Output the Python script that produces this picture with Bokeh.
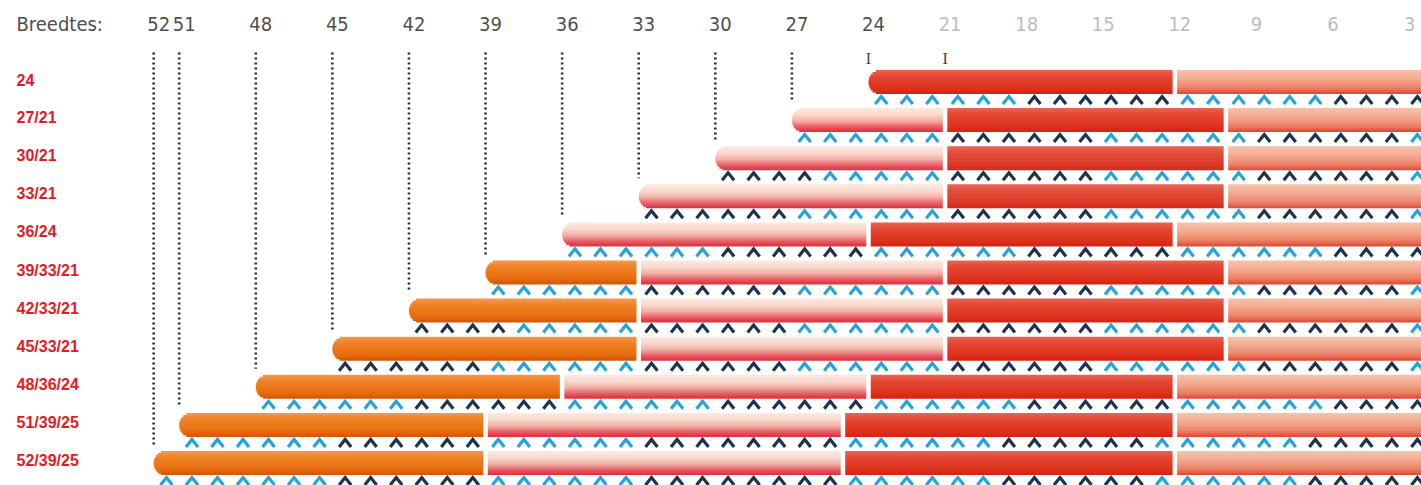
import numpy as np
from bokeh.plotting import figure
from bokeh.models import Range1d
from bokeh.embed import file_html
from bokeh.resources import INLINE
from bokeh.core.properties import value

# ---------------- data ----------------
row_labels = ["24", "27/21", "30/21", "33/21", "36/24", "39/33/21",
              "42/33/21", "45/33/21", "48/36/24", "51/39/25", "52/39/25"]
row_starts = [24, 27, 30, 33, 36, 39, 42, 45, 48, 51, 52]
# stitch boundaries of the bar segments, left to right
row_bounds = [
    [24, 12, 0],
    [27, 21, 10, 0],
    [30, 21, 10, 0],
    [33, 21, 10, 0],
    [36, 24, 12, 0],
    [39, 33, 21, 10, 0],
    [42, 33, 21, 10, 0],
    [45, 33, 21, 10, 0],
    [48, 36, 24, 12, 0],
    [51, 39, 25, 12, 0],
    [52, 39, 25, 12, 0],
]
row_kinds = [
    ["red", "salmon"],
    ["pink", "red", "salmon"],
    ["pink", "red", "salmon"],
    ["pink", "red", "salmon"],
    ["pink", "red", "salmon"],
    ["orange", "pink", "red", "salmon"],
    ["orange", "pink", "red", "salmon"],
    ["orange", "pink", "red", "salmon"],
    ["orange", "pink", "red", "salmon"],
    ["orange", "pink", "red", "salmon"],
    ["orange", "pink", "red", "salmon"],
]
# stitch marks under each bar: runs of (colour, count) from the row's first stitch
chevron_runs = [
    [("L", 6), ("D", 6), ("L", 6), ("D", 6)],
    [("L", 6), ("D", 6), ("L", 6), ("D", 6), ("L", 3)],
    [("D", 4), ("L", 5), ("D", 6), ("L", 6), ("D", 6), ("L", 3)],
    [("D", 6), ("L", 6), ("D", 6), ("L", 6), ("D", 6), ("L", 3)],
    [("L", 6), ("D", 6), ("L", 6), ("D", 6), ("L", 6), ("D", 6)],
    [("L", 6), ("D", 6), ("L", 6), ("D", 6), ("L", 6), ("D", 6), ("L", 3)],
    [("D", 4), ("L", 5), ("D", 6), ("L", 6), ("D", 6), ("L", 6), ("D", 6), ("L", 3)],
    [("D", 6), ("L", 6), ("D", 6), ("L", 6), ("D", 6), ("L", 6), ("D", 6), ("L", 3)],
    [("L", 6), ("D", 6), ("L", 6), ("D", 6), ("L", 6), ("D", 6), ("L", 6), ("D", 6)],
    [("L", 6), ("D", 6), ("L", 6), ("D", 8), ("L", 6), ("D", 6), ("L", 6), ("D", 6), ("L", 1)],
    [("L", 7), ("D", 6), ("L", 6), ("D", 8), ("L", 6), ("D", 6), ("L", 6), ("D", 6), ("L", 1)],
]
top_ticks = [52, 51, 48, 45, 42, 39, 36, 33, 30, 27, 24, 21, 18, 15, 12, 9, 6, 3]
guide_lines = [52, 51, 48, 45, 42, 39, 36, 33, 30, 27]
marker_stitches = [24, 21]
header_text = "Breedtes:"

# ---------------- geometry / style ----------------
PX_ST = 25.53     # pixels per stitch
PX_ROW = 38.1     # pixels per row
W, Hfig = 1421, 485
X_LEFT = 24 + 868 / PX_ST
X_RIGHT = X_LEFT - W / PX_ST
Y_TOP = 81.5 / PX_ROW
Y_BOT = Y_TOP - Hfig / PX_ROW

def sx(px):
    return px / PX_ST

def sy(py):
    return py / PX_ROW

GRADS = {
    "orange": [(0.0, "#f59a4e"), (0.25, "#f08226"), (0.7, "#ea7012"), (1.0, "#d25604")],
    "pink":   [(0.0, "#fceae2"), (0.3, "#f9d6ca"), (0.55, "#f3aca2"), (0.76, "#e8636a"), (1.0, "#de2a36")],
    "red":    [(0.0, "#ea6452"), (0.3, "#e44532"), (0.75, "#df331d"), (1.0, "#d32211")],
    "salmon": [(0.0, "#f7c4ad"), (0.4, "#f2a78b"), (0.75, "#ec8066"), (1.0, "#e0432f")],
}
CHEV = {"L": "#27a3dc", "D": "#1b3550"}

def hex2rgb(h):
    h = h.lstrip("#")
    return np.array([int(h[i:i + 2], 16) for i in (0, 2, 4)], float)

def grad_color(kind, t):
    stops = GRADS[kind]
    for (t0, c0), (t1, c1) in zip(stops[:-1], stops[1:]):
        if t <= t1:
            f = (t - t0) / (t1 - t0) if t1 > t0 else 0
            c = hex2rgb(c0) * (1 - f) + hex2rgb(c1) * f
            return "#%02x%02x%02x" % tuple(int(round(v)) for v in c)
    return stops[-1][1]

p = figure(width=W, height=Hfig, x_range=Range1d(X_LEFT, X_RIGHT),
           y_range=Range1d(Y_BOT, Y_TOP), output_backend="svg",
           toolbar_location=None, min_border=0)
p.xaxis.visible = False
p.yaxis.visible = False
p.grid.visible = False
p.outline_line_color = None
p.background_fill_color = "white"

HALF = 12.0  # bar half height, px

# ---- dotted guide lines ----
gx, gy = [], []
for s in guide_lines:
    r = row_starts.index(s)
    gx.append([s, s])
    gy.append([sy(81.5 - 52), -r + sy(HALF) + sy(6)])
p.multi_line(gx, gy, line_color="#2a2a2a", line_width=2.6, line_dash="2 3")

# ---- bars as gradient strips ----
NSTRIP = 12
GAP = sx(2.3)
L, R, B, T, C = [], [], [], [], []
for i, (bounds, kinds) in enumerate(zip(row_bounds, row_kinds)):
    yc = -i
    for j, kind in enumerate(kinds):
        a, e = bounds[j], bounds[j + 1]
        left = a - (GAP if j > 0 else 0)
        right = e + GAP if e > 0 else e - 3
        for k in range(NSTRIP):
            top_px = -HALF + 2 * HALF * k / NSTRIP
            bot_px = -HALF + 2 * HALF * (k + 1) / NSTRIP
            inset = 0.0
            if j == 0:
                d = abs((top_px + bot_px) / 2)
                inset = sx(HALF - np.sqrt(max(HALF ** 2 - d ** 2, 0)))
            L.append(left - inset)
            R.append(right)
            T.append(yc - sy(top_px))
            B.append(yc - sy(bot_px) - (sy(0.5) if k < NSTRIP - 1 else 0))
            C.append(grad_color(kind, (k + 0.5) / NSTRIP))
p.quad(left=L, right=R, bottom=B, top=T, fill_color=C, line_color=None)

# ---- stitch chevrons ----
cx, cy, cc = [], [], []
hw = sx(6.0)
for i, (start, runs) in enumerate(zip(row_starts, chevron_runs)):
    k = start
    apex = -i - sy(HALF + 2.5)
    foot = apex - sy(7.5)
    for col, n in runs:
        for _ in range(n):
            x = k - 0.5
            cx.append([x + hw, x, x - hw])
            cy.append([foot, apex, foot])
            cc.append(CHEV[col])
            k -= 1
p.multi_line(cx, cy, line_color=cc, line_width=3.2, line_join="miter")

# ---- texts ----
COND = "DejaVu Sans Condensed"
top_y = sy(81.5 - 23)
p.text(x=[X_LEFT - sx(16)], y=[top_y], text=[header_text], text_font=value(COND),
       text_font_size="20px", text_color="#4f4f4f", text_align="left",
       text_baseline="middle")
tick_cols = ["#4f4f4f" if s >= 24 else "#bdbdbd" for s in top_ticks]
p.text(x=top_ticks, y=[top_y] * len(top_ticks), text=[str(s) for s in top_ticks],
       x_offset=5, text_font=value(COND), text_font_size="20px",
       text_color=tick_cols, text_align="center", text_baseline="middle")

p.text(x=[X_LEFT - sx(16)] * len(row_labels),
       y=[-i + sy(2.5) for i in range(len(row_labels))], text=row_labels,
       text_font=value("Liberation Sans"), text_font_style="bold",
       text_font_size="16px", text_color="#e31b23", text_align="left",
       text_baseline="middle")

p.text(x=marker_stitches, y=[sy(81.5 - 58)] * len(marker_stitches),
       text=["I"] * len(marker_stitches), text_font=value("Liberation Serif"),
       text_font_size="16px", text_color="#444444", text_align="center",
       text_baseline="middle")

open("out.html", "w").write(file_html(p, INLINE))
